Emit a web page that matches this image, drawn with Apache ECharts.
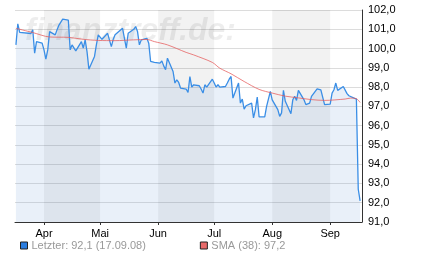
<!DOCTYPE html>
<html>
<head>
<meta charset="utf-8">
<script src="https://cdn.jsdelivr.net/npm/echarts@6/dist/echarts.min.js"></script>
<style>
  html, body { margin: 0; padding: 0; background: #fff; }
  #chart { width: 422px; height: 280px; }
</style>
</head>
<body>
<div id="chart"></div>
<script>
// Kursdaten (Schlusskurse)
var prices = [
    100.19, 101.28, 100.84, 100.79, 100.78, 100.97, 99.76, 100.36, 100.28, 99.93,
    99.45, 99.93, 100.88, 100.71, 100.97, 101.22, 101.14, 101.53, 101.48, 99.93,
    100.19, 100.10, 99.88, 100.36, 100.02, 100.45, 99.84, 98.93, 99.59, 100.19,
    100.71, 100.48, 100.79, 100.88, 100.10, 100.48, 100.71, 101.05, 100.97, 100.02,
    100.79, 101.00, 101.14, 100.88, 100.19, 100.45, 100.53, 100.28, 99.33, 99.36,
    99.28, 99.24, 99.36, 99.10, 98.90, 99.50, 98.81, 98.21, 98.38, 98.24,
    97.95, 97.90, 97.72, 98.55, 98.00, 98.12, 98.07, 97.90, 97.69, 98.12,
    98.00, 98.41,
    98.21, 98.00, 98.12, 98.00, 98.03, 98.21, 98.41, 98.55, 97.43, 98.21,
    97.17, 97.38, 96.86, 97.03, 97.17, 96.40, 96.83, 97.48, 96.45, 96.45,
    97.00, 96.91, 97.78, 97.34, 96.83, 96.48, 96.66, 97.83, 97.26, 96.62,
    97.34, 97.52, 97.31, 97.83, 97.34, 97.09, 97.17, 97.17, 97.52, 97.91,
    97.95, 97.86, 97.83, 97.09, 97.12, 97.69, 97.86, 98.21, 97.83, 98.03,
    98.07, 97.66, 97.55, 97.60, 97.38, 92.7, 92.1
];

// SMA (38) - Stuetzpunkte
var smaDates = [
    '2008-03-17', '2008-03-26', '2008-04-04', '2008-04-14', '2008-04-22',
    '2008-04-30', '2008-05-09', '2008-05-19', '2008-05-26', '2008-05-30',
    '2008-06-06', '2008-06-16', '2008-06-20', '2008-06-30', '2008-07-04',
    '2008-07-10', '2008-07-17', '2008-07-25', '2008-08-01', '2008-08-08',
    '2008-08-15', '2008-08-22', '2008-08-29', '2008-09-09', '2008-09-12',
    '2008-09-15', '2008-09-17'
];
var smaValues = [
    101.05, 100.83, 100.60, 100.58, 100.48,
    100.42, 100.41, 100.45, 100.47, 100.36,
    100.19, 99.80, 99.67, 99.28, 98.98,
    98.69, 98.29, 97.88, 97.69, 97.53,
    97.44, 97.35, 97.31, 97.38, 97.43,
    97.40, 97.20
];

// Handelstage
var startDate = '2008-03-17';
var endDate = '2008-09-17';
var holidays = ['2008-03-21', '2008-03-24', '2008-05-01', '2008-05-12'];

// Monatsbaender (grau hinterlegt)
var bandMonths = [['2008-04-01', '2008-05-01'], ['2008-06-01', '2008-07-01'], ['2008-08-01', '2008-09-01']];
var monthNames = ['Jan', 'Feb', 'Mär', 'Apr', 'Mai', 'Jun', 'Jul', 'Aug', 'Sep', 'Okt', 'Nov', 'Dez'];
var legendLabels = ['Letzter: 92,1 (17.09.08)', 'SMA (38): 97,2'];
var yMin = 91, yMax = 102;

function pad(n) { return n < 10 ? '0' + n : '' + n; }
function tradingDays(from, to) {
    var out = [];
    var p = from.split('-'), q = to.split('-');
    var d = new Date(+p[0], +p[1] - 1, +p[2]);
    var e = new Date(+q[0], +q[1] - 1, +q[2]);
    while (d <= e) {
        var s = d.getFullYear() + '-' + pad(d.getMonth() + 1) + '-' + pad(d.getDate());
        if (d.getDay() !== 0 && d.getDay() !== 6 && holidays.indexOf(s) < 0) out.push(s);
        d.setDate(d.getDate() + 1);
    }
    return out;
}

var days = tradingDays(startDate, endDate);
var priceData = [];
for (var i = 0; i < prices.length && i < days.length; i++) {
    priceData.push([days[i], prices[i]]);
}
var smaData = [];
for (var j = 0; j < smaDates.length; j++) {
    smaData.push([smaDates[j], smaValues[j]]);
}
var bands = bandMonths.map(function (b) {
    return [{ xAxis: b[0] }, { xAxis: b[1] }];
});

var font = '"Liberation Sans", Arial, sans-serif';
var myChart = echarts.init(document.getElementById('chart'));
var option = {
    animation: false,
    backgroundColor: '#fff',
    textStyle: { fontFamily: font },
    grid: {
        left: 15,
        right: 60,
        top: 10,
        bottom: 58,
        containLabel: false
    },
    graphic: [{
        type: 'text',
        left: 25,
        top: 15,
        z: 2,
        style: {
            text: 'finanztreff.de:',
            fill: 'rgba(0,0,0,0.07)',
            font: 'italic bold 32px ' + font
        }
    }],
    legend: {
        left: 15,
        top: 235,
        itemWidth: 7,
        itemHeight: 7,
        itemGap: 54,
        icon: 'rect',
        selectedMode: false,
        textStyle: { color: '#999', fontSize: 11, fontFamily: font, padding: [0, 0, 0, -1] },
        itemStyle: { borderColor: '#222', borderWidth: 1 },
        data: [
            { name: legendLabels[0], itemStyle: { color: '#2a7de0' } },
            { name: legendLabels[1], itemStyle: { color: '#e86a6a' } }
        ]
    },
    xAxis: {
        type: 'time',
        min: '2008-03-16 12:00',
        max: '2008-09-18 00:00',
        minInterval: 28 * 86400000,
        maxInterval: 31 * 86400000,
        axisLine: { show: true, lineStyle: { color: '#333', width: 1 } },
        axisTick: { show: true, length: 3, lineStyle: { color: '#333' } },
        axisLabel: {
            color: '#000',
            fontSize: 11,
            fontFamily: font,
            margin: 6,
            hideOverlap: false,
            formatter: function (value) {
                return monthNames[new Date(value).getMonth()];
            }
        },
        splitLine: { show: false }
    },
    yAxis: {
        type: 'value',
        position: 'right',
        min: yMin,
        max: yMax,
        interval: 1,
        axisLine: { show: true, lineStyle: { color: '#333', width: 1 } },
        axisTick: { show: false },
        axisLabel: {
            color: '#000',
            fontSize: 11,
            fontFamily: font,
            margin: 6,
            formatter: function (v) {
                return v.toFixed(1).replace('.', ',');
            }
        },
        splitLine: { show: true, lineStyle: { color: '#dcdcdc', width: 1 } }
    },
    series: [{
        // nur fuer die Monatsbaender
        type: 'line',
        data: [],
        z: 1,
        silent: true,
        markArea: {
            silent: true,
            itemStyle: { color: 'rgba(0,0,0,0.05)' },
            data: bands
        }
    }, {
        name: legendLabels[0],
        type: 'line',
        data: priceData,
        z: 3,
        showSymbol: false,
        symbol: 'none',
        lineStyle: { color: '#3a8ee6', width: 1.3 },
        itemStyle: { color: '#2a7de0' },
        areaStyle: { color: 'rgba(100,150,215,0.2)', origin: 'start' }
    }, {
        name: legendLabels[1],
        type: 'line',
        data: smaData,
        z: 4,
        showSymbol: false,
        symbol: 'none',
        smooth: 0.3,
        lineStyle: { color: 'rgba(230,90,90,0.75)', width: 1 },
        itemStyle: { color: '#e86a6a' }
    }]
};
myChart.setOption(option);
window.addEventListener('resize', function () {
    myChart.resize();
});
</script>
</body>
</html>
